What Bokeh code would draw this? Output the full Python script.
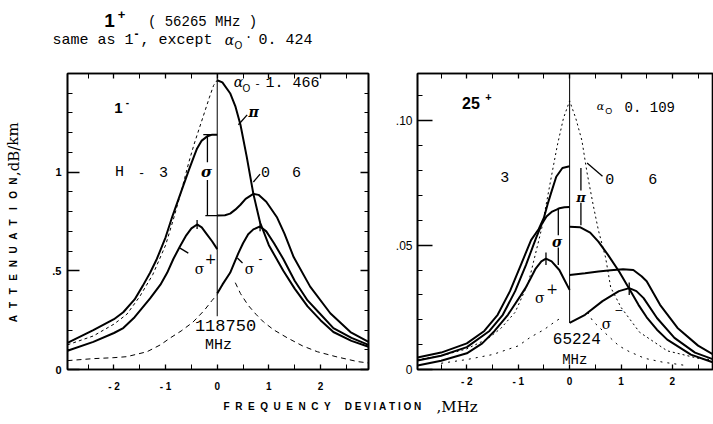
from bokeh.plotting import figure
from bokeh.models import Label, LinearAxis, FixedTicker, Range1d
from bokeh.layouts import column, row
from bokeh.embed import file_html
from bokeh.resources import INLINE

# ---------------- data: left panel (1- line, 118750 MHz) ----------------
L_unsplit_f = [-2.9, -2.4, -2.0, -1.75, -1.5, -1.25, -1.0, -0.85, -0.7, -0.55, -0.45, -0.35, -0.25, -0.15, -0.07, 0.0]
L_unsplit_a = [0.125, 0.17, 0.23, 0.28, 0.37, 0.48, 0.63, 0.76, 0.9, 1.05, 1.14, 1.22, 1.3, 1.38, 1.44, 1.466]

L_sig_left_f = [-2.9, -2.4, -2.0, -1.82, -1.6, -1.44, -1.3, -1.17, -1.0, -0.87, -0.7, -0.55, -0.45, -0.39, -0.3, -0.2, -0.1, 0.0]
L_sig_left_a = [0.135, 0.2, 0.255, 0.29, 0.355, 0.425, 0.49, 0.56, 0.67, 0.775, 0.9, 1.01, 1.08, 1.12, 1.16, 1.18, 1.19, 1.19]

L_sigplus_f = [-2.9, -2.4, -2.0, -1.82, -1.6, -1.3, -1.1, -0.97, -0.85, -0.72, -0.6, -0.5, -0.39, -0.3, -0.2, -0.1, 0.0]
L_sigplus_a = [0.095, 0.14, 0.185, 0.21, 0.265, 0.36, 0.43, 0.49, 0.56, 0.625, 0.68, 0.715, 0.735, 0.72, 0.685, 0.65, 0.61]

L_dash_left_f = [-2.9, -2.4, -2.0, -1.75, -1.36, -1.1, -0.91, -0.7, -0.47, -0.25, -0.1, 0.0]
L_dash_left_a = [0.045, 0.055, 0.06, 0.065, 0.09, 0.125, 0.16, 0.195, 0.24, 0.3, 0.35, 0.38]

L_pi_f = [0.0, 0.1, 0.25, 0.35, 0.45, 0.57, 0.7, 0.83, 1.0, 1.28, 1.5, 1.75, 2.0, 2.25, 2.6, 2.93]
L_pi_a = [1.466, 1.455, 1.4, 1.335, 1.24, 1.08, 0.89, 0.745, 0.63, 0.5, 0.41, 0.32, 0.25, 0.19, 0.145, 0.115]

L_sig_right_f = [0.0, 0.15, 0.25, 0.35, 0.45, 0.55, 0.7, 0.8, 0.95, 1.16, 1.3, 1.48, 1.8, 2.19, 2.58, 2.93]
L_sig_right_a = [0.78, 0.782, 0.79, 0.81, 0.835, 0.865, 0.89, 0.885, 0.85, 0.77, 0.69, 0.57, 0.42, 0.285, 0.19, 0.14]

L_sigminus_f = [0.0, 0.1, 0.25, 0.41, 0.5, 0.6, 0.7, 0.83, 0.95, 1.1, 1.28, 1.5, 1.75, 2.0, 2.25, 2.6, 2.93]
L_sigminus_a = [0.385, 0.43, 0.49, 0.59, 0.64, 0.685, 0.71, 0.725, 0.7, 0.64, 0.56, 0.45, 0.35, 0.28, 0.21, 0.16, 0.125]

L_dash_right_f = [0.35, 0.45, 0.6, 0.75, 0.9, 1.1, 1.36, 1.65, 1.94, 2.3, 2.72, 2.93]
L_dash_right_a = [0.44, 0.385, 0.325, 0.28, 0.24, 0.2, 0.16, 0.12, 0.09, 0.065, 0.04, 0.033]

# ---------------- data: right panel (25+ line, 65224 MHz) ----------------
R_unsplit_f = [-2.96, -2.5, -2.0, -1.6, -1.34, -1.06, -0.8, -0.54, -0.36, -0.24, -0.12, 0.0,
               0.12, 0.24, 0.34, 0.46, 0.56, 0.7, 0.8, 1.0, 1.36, 1.9, 2.5, 2.96]
R_unsplit_a = [0.004, 0.0055, 0.0083, 0.0123, 0.0165, 0.023, 0.035, 0.057, 0.077, 0.09, 0.101, 0.108,
               0.101, 0.092, 0.079, 0.066, 0.056, 0.045, 0.033, 0.025, 0.015, 0.0075, 0.0045, 0.0035]

R_dash_left_f = [-2.5, -2.0, -1.5, -1.0, -0.76, -0.5, -0.3, -0.15]
R_dash_left_a = [0.0025, 0.004, 0.006, 0.0095, 0.013, 0.016, 0.019, 0.021]

R_dash_right_f = [0.35, 0.45, 0.7, 0.96, 1.16, 1.46, 1.8, 2.3]
R_dash_right_a = [0.023, 0.0195, 0.0145, 0.0095, 0.0072, 0.0045, 0.003, 0.0015]

R_top_left_f = [-2.96, -2.5, -2.0, -1.66, -1.4, -1.16, -0.95, -0.75, -0.6, -0.5, -0.42, -0.36, -0.26, -0.14, 0.0]
R_top_left_a = [0.0048, 0.0068, 0.0105, 0.0155, 0.022, 0.0315, 0.042, 0.052, 0.0565, 0.061, 0.067, 0.071, 0.0775, 0.081, 0.0817]

R_sig_left_f = [-2.96, -2.5, -2.0, -1.56, -1.3, -1.06, -0.85, -0.65, -0.54, -0.45, -0.34, -0.2, -0.1, 0.0]
R_sig_left_a = [0.0036, 0.0055, 0.009, 0.0155, 0.022, 0.0315, 0.042, 0.053, 0.0585, 0.0615, 0.0635, 0.0648, 0.0652, 0.0653]

R_sigplus_f = [-2.96, -2.5, -2.0, -1.7, -1.46, -1.2, -0.96, -0.86, -0.75, -0.66, -0.55, -0.46, -0.35, -0.2, -0.1, 0.0]
R_sigplus_a = [0.0016, 0.0035, 0.0065, 0.0105, 0.0155, 0.022, 0.0295, 0.0327, 0.037, 0.0406, 0.0435, 0.0446, 0.0435, 0.04, 0.036, 0.032]

R_pi_f = [0.0, 0.2, 0.4, 0.56, 0.75, 0.96, 1.16, 1.34, 1.5, 1.7, 1.9, 2.36, 2.96]
R_pi_a = [0.0574, 0.0572, 0.055, 0.0514, 0.046, 0.0395, 0.0325, 0.026, 0.021, 0.016, 0.012, 0.006, 0.0016]

R_sig_right_f = [0.0, 0.3, 0.56, 0.8, 1.04, 1.24, 1.4, 1.5, 1.76, 2.1, 2.5, 2.96]
R_sig_right_a = [0.038, 0.0387, 0.0394, 0.0399, 0.0403, 0.04, 0.0375, 0.0355, 0.026, 0.0167, 0.0096, 0.004]

R_sigminus_f = [0.0, 0.3, 0.64, 0.96, 1.16, 1.3, 1.44, 1.7, 2.04, 2.44, 2.96]
R_sigminus_a = [0.0187, 0.022, 0.0275, 0.0315, 0.0327, 0.0315, 0.0287, 0.0207, 0.0127, 0.0068, 0.0028]

# ---------------- ticks ----------------
X_ticks = [-2, -1, 0, 1, 2]
X_tick_labels = ["- 2", "- 1", "0", "1", "2"]
X_minor = [-2.5, -1.5, -0.5, 0.5, 1.5, 2.5]
L_yticks = [0, 0.5, 1]
L_ytick_labels = ["0", ".5", "1"]
R_yticks = [0, 0.05, 0.10]
R_ytick_labels = ["0", ".05", ".10"]

# ---------------- layout geometry (page px) ----------------
L_XR = (-2.9, 2.93); L_YR = (0.0, 1.5)
R_XR = (-2.96, 2.8); R_YR = (0.0, 0.119)
NB = "\u00a0"


def d1(px, py):
    return (L_XR[0] + (px - 67) * (L_XR[1] - L_XR[0]) / 301.0,
            L_YR[0] + (370 - py) * (L_YR[1] - L_YR[0]) / 300.0)


def d2(px, py):
    return (R_XR[0] + (px - 417) * (R_XR[1] - R_XR[0]) / 288.0,
            R_YR[0] + (372 - py) * (R_YR[1] - R_YR[0]) / 299.0)


def make_fig(w, h, xr, yr, mb):
    p = figure(width=w, height=h, x_range=Range1d(*xr), y_range=Range1d(*yr),
               output_backend="svg", toolbar_location=None,
               min_border_left=mb[0], min_border_right=mb[1],
               min_border_top=mb[2], min_border_bottom=mb[3])
    p.xgrid.visible = False
    p.ygrid.visible = False
    p.outline_line_color = "black"
    p.outline_line_width = 1.6
    p.background_fill_color = "white"
    p.border_fill_color = "white"
    return p


def strip_fig(w, h):
    p = figure(width=w, height=h, x_range=Range1d(0, w), y_range=Range1d(0, h),
               output_backend="svg", toolbar_location=None, x_axis_location=None,
               y_axis_location=None, min_border=0)
    p.xgrid.visible = False
    p.ygrid.visible = False
    p.outline_line_color = None
    p.border_fill_color = "white"
    p.background_fill_color = "white"
    return p


def frame_axis(ax, ticks, minor, labels, tin, minin, size="10px", font="Liberation Sans",
               style="bold", standoff=6):
    ax.ticker = FixedTicker(ticks=ticks, minor_ticks=minor)
    ax.major_tick_in = tin
    ax.major_tick_out = 0
    ax.minor_tick_in = minin
    ax.minor_tick_out = 0
    ax.axis_line_color = "black"
    ax.axis_line_width = 1.6
    ax.major_tick_line_color = "black"
    ax.major_tick_line_width = 1.3
    ax.minor_tick_line_color = "black"
    ax.minor_tick_line_width = 1
    ax.axis_label = None
    if labels is None:
        ax.major_label_overrides = {t: "" for t in ticks}
        ax.major_label_text_font_size = "0px"
        ax.major_label_standoff = 0
    else:
        ax.major_label_overrides = {t: l for t, l in zip(ticks, labels)}
        ax.major_label_text_font_size = size
        ax.major_label_text_font = font
        ax.major_label_text_font_style = style
        ax.major_label_text_color = "black"
        ax.major_label_standoff = standoff


def lab(p, conv, px, py, text, size, font="Liberation Mono", style="normal",
        align="center", baseline="middle", angle=0.0):
    x, y = conv(px, py)
    p.add_layout(Label(x=x, y=y, text=text, text_font=font, text_font_size=size,
                       text_font_style=style, text_align=align, text_baseline=baseline,
                       angle=angle, text_color="black"))


SERIF = "DejaVu Serif"
SANS = "Liberation Sans"

# ================= top title strip (page y 0..50) =================
ft = strip_fig(713, 50)


def dt(px, py):
    return (px, 50 - py)


lab(ft, dt, 109, 20, "1", "19px", font=SANS, style="bold")
lab(ft, dt, 121, 14, "+", "13px", font=SANS, style="bold")
lab(ft, dt, 202, 21, "( 56265 MHz )", "14px")
lab(ft, dt, 52, 40, "same as 1", "15px", align="left")
lab(ft, dt, 136, 33, "-", "12px", font=SANS, style="bold")
lab(ft, dt, 140, 40, ", except", "15px", align="left")
lab(ft, dt, 229, 39, "α", "14px", font=SERIF, style="italic")
lab(ft, dt, 238, 45, "O", "10px", font=SANS)
lab(ft, dt, 248, 37, "·", "12px")
lab(ft, dt, 258, 40, "0. 424", "15px", align="left")

# ================= y label strip (page x 0..30, y 50..394) =================
fy = strip_fig(30, 344)


def dy(px, py):
    return (px, 394 - py)


for i, ch in enumerate("ATTENUATION"):
    lab(fy, dy, 13, 335 - 16 * i, ch, "10px", font=SANS, style="bold", angle=1.5708)
lab(fy, dy, 13, 138, ",dB/km", "15px", font=SERIF, angle=1.5708)

# ================= left panel (page x 30..392) =================
f1 = make_fig(362, 344, L_XR, L_YR, (37, 24, 20, 24))
L_yminor = [i / 10 for i in range(1, 15) if i not in (5, 10)]
frame_axis(f1.xaxis[0], X_ticks, X_minor, X_tick_labels, 5, 5, size="10px", standoff=11)
frame_axis(f1.yaxis[0], L_yticks, L_yminor, L_ytick_labels, 12, 5, size="11px", standoff=6)
ax_top = LinearAxis()
frame_axis(ax_top, X_ticks, X_minor, None, 5, 5)
f1.add_layout(ax_top, "above")
ax_right = LinearAxis()
frame_axis(ax_right, L_yticks, L_yminor, None, 8, 4)
f1.add_layout(ax_right, "right")

f1.line(L_unsplit_f, L_unsplit_a, line_color="black", line_width=1, line_dash="3 3")
f1.line(L_dash_left_f, L_dash_left_a, line_color="black", line_width=1, line_dash="5 4")
f1.line(L_dash_right_f, L_dash_right_a, line_color="black", line_width=1, line_dash="5 4")
for fx, ay in [(L_sig_left_f, L_sig_left_a), (L_sigplus_f, L_sigplus_a), (L_pi_f, L_pi_a),
               (L_sig_right_f, L_sig_right_a), (L_sigminus_f, L_sigminus_a)]:
    f1.line(fx, ay, line_color="black", line_width=2)

# centre line, sigma bar, peak marks, leaders
f1.segment(x0=[0.0], y0=[0.27], x1=[0.0], y1=[1.5], line_color="black", line_width=1)
f1.segment(x0=[-0.19, -0.19, -0.27, -0.23, -0.39, 0.83, 0.41, 0.7, -0.72, 0.39],
           y0=[0.78, 1.05, 1.19, 0.78, 0.712, 0.70, 1.24, 0.95, 0.615, 0.565],
           x1=[-0.19, -0.19, -0.1, 0.0, -0.39, 0.83, 0.58, 0.83, -0.56, 0.49],
           y1=[0.96, 1.19, 1.19, 0.78, 0.758, 0.75, 1.29, 0.99, 0.59, 0.54],
           line_color="black", line_width=1.3)

lab(f1, d1, 118, 105, "1", "15px", font=SANS, style="bold")
lab(f1, d1, 127, 99, "-", "10px", font=SANS, style="bold")
lab(f1, d1, 119, 170, "H", "15px")
lab(f1, d1, 141, 170, "-", "12px")
lab(f1, d1, 163, 170, "3", "15px")
lab(f1, d1, 206, 170, "σ", "15px", font=SERIF, style="bold italic")
lab(f1, d1, 265, 170, "0", "15px")
lab(f1, d1, 296, 170, "6", "15px")
lab(f1, d1, 253, 109, "π", "14px", font=SERIF, style="bold italic")
lab(f1, d1, 199, 268, "σ", "14px", font=SERIF)
lab(f1, d1, 210, 258, "+", "14px", font=SERIF)
lab(f1, d1, 249, 268, "σ", "14px", font=SERIF)
lab(f1, d1, 260, 257, "-", "12px", font=SANS)
lab(f1, d1, 225, 325, "118750", "17px")
lab(f1, d1, 218, 346, "MHz", "15px")
lab(f1, d1, 238, 79, "α", "14px", font=SERIF, style="italic")
lab(f1, d1, 246, 85, "O", "10px", font=SANS)
lab(f1, d1, 257, 80, "-", "11px")
lab(f1, d1, 292, 80, "1. 466", "15px")

# ================= right panel (page x 392..713) =================
f2 = make_fig(321, 344, R_XR, R_YR, (25, 0, 23, 22))
R_yminor = [i / 100 for i in range(1, 12) if i not in (5, 10)]
frame_axis(f2.xaxis[0], X_ticks, X_minor, X_tick_labels, 5, 5, size="10px", standoff=6)
frame_axis(f2.yaxis[0], R_yticks, R_yminor, R_ytick_labels, 15, 5, size="12px", style="normal", standoff=5)
ax_top2 = LinearAxis()
frame_axis(ax_top2, X_ticks, X_minor, None, 5, 5)
f2.add_layout(ax_top2, "above")

f2.line(R_unsplit_f, R_unsplit_a, line_color="black", line_width=1, line_dash="2 3")
f2.line(R_dash_left_f, R_dash_left_a, line_color="black", line_width=1, line_dash="2 5")
f2.line(R_dash_right_f, R_dash_right_a, line_color="black", line_width=1, line_dash="2 5")
for fx, ay in [(R_top_left_f, R_top_left_a), (R_sig_left_f, R_sig_left_a), (R_sigplus_f, R_sigplus_a),
               (R_pi_f, R_pi_a), (R_sig_right_f, R_sig_right_a), (R_sigminus_f, R_sigminus_a)]:
    f2.line(fx, ay, line_color="black", line_width=2)

f2.segment(x0=[0.0], y0=[0.0187], x1=[0.0], y1=[0.119], line_color="black", line_width=1)
f2.segment(x0=[-0.22, -0.22, 0.22, 0.22, -0.46, 1.16, 0.34],
           y0=[0.054, 0.042, 0.072, 0.058, 0.042, 0.030, 0.083],
           x1=[-0.22, -0.22, 0.22, 0.22, -0.46, 1.16, 0.64],
           y1=[0.065, 0.049, 0.081, 0.067, 0.047, 0.035, 0.0777],
           line_color="black", line_width=1.3)

lab(f2, d2, 469, 103, "25", "16px", font=SANS, style="bold")
lab(f2, d2, 486, 97, "+", "11px", font=SANS, style="bold")
lab(f2, d2, 502, 178, "3", "15px")
lab(f2, d2, 604, 180, "0", "15px")
lab(f2, d2, 646, 180, "6", "15px")
lab(f2, d2, 576, 198, "π", "13px", font=SERIF, style="bold italic")
lab(f2, d2, 553, 243, "σ", "14px", font=SERIF, style="bold italic")
lab(f2, d2, 536, 300, "σ", "14px", font=SERIF)
lab(f2, d2, 548, 290, "+", "14px", font=SERIF)
lab(f2, d2, 601, 326, "σ", "14px", font=SERIF)
lab(f2, d2, 613, 312, "\u2013", "12px", font=SANS)
lab(f2, d2, 572, 341, "65224", "16px")
lab(f2, d2, 570, 362, "MHz", "14px")
lab(f2, d2, 595, 106, "α", "11px", font=SERIF, style="italic")
lab(f2, d2, 603, 111, "O", "9px", font=SANS)
lab(f2, d2, 643, 108, "0. 109", "14px")

# ================= bottom x label strip (page y 394..424) =================
fb = strip_fig(713, 30)


def db(px, py):
    return (px, 424 - py)


xlab = (NB * 2).join(list("FREQUENCY")) + NB * 5 + NB.join(list("DEVIATION"))
lab(fb, db, 223, 406, xlab, "10px", font=SANS, style="bold", align="left")
lab(fb, db, 436, 406, ",MHz", "15px", font=SERIF, align="left")

layout = column(ft, row(fy, f1, f2), fb)
open("out.html", "w").write(file_html(layout, INLINE))
